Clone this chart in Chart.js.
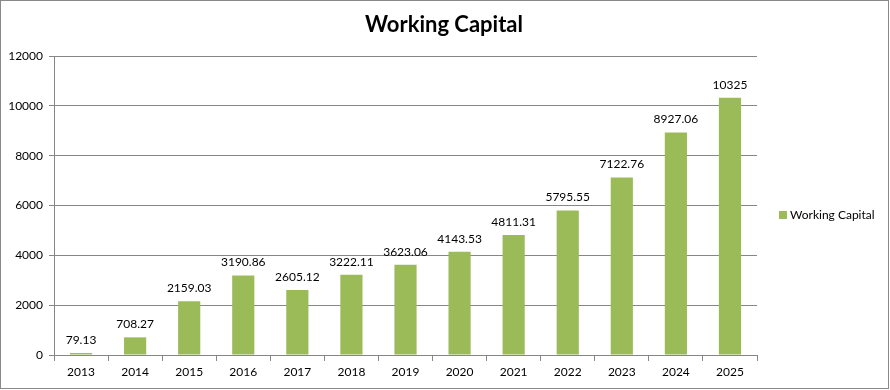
<!DOCTYPE html>
<html><head><meta charset="utf-8">
<script src="https://cdn.jsdelivr.net/npm/chart.js@4"></script>
<style>html,body{margin:0;padding:0;background:#fff}#wrap{width:890px;height:390px;position:relative}</style>
</head><body><div id="wrap"><canvas id="c" width="890" height="390"></canvas></div>
<script>
const categories = ['2013','2014','2015','2016','2017','2018','2019','2020','2021','2022','2023','2024','2025'];
const workingCapital = [79.13, 708.27, 2159.03, 3190.86, 2605.12, 3222.11, 3623.06, 4143.53, 4811.31, 5795.55, 7122.76, 8927.06, 10325];
const valueLabels = ['79.13','708.27','2159.03','3190.86','2605.12','3222.11','3623.06','4143.53','4811.31','5795.55','7122.76','8927.06','10325'];
const seriesName = 'Working Capital';
const titleText = 'Working Capital';
const FONT = 'Lato, "Open Sans", sans-serif';
const GREEN = '#9BBB59';
const GRID = '#868686';

const extras = {
  id: 'extras',
  afterDraw(chart) {
    const ctx = chart.ctx;
    ctx.save();
    ctx.strokeStyle = '#898989';
    ctx.lineWidth = 1;
    ctx.strokeRect(0.5, 0.5, 888, 388);
    ctx.fillStyle = '#000';
    ctx.font = 'bold 22px ' + FONT;
    ctx.textAlign = 'center';
    ctx.textBaseline = 'middle';
    ctx.fillText(titleText, 444, 25);
    ctx.font = '12px ' + FONT;
    const meta = chart.getDatasetMeta(0);
    meta.data.forEach((bar, i) => {
      ctx.fillText(valueLabels[i], bar.x, bar.y - 13);
    });
    ctx.fillStyle = GREEN;
    ctx.fillRect(779, 211, 8, 8);
    ctx.fillStyle = '#000';
    ctx.textAlign = 'left';
    ctx.fillText(seriesName, 790, 215);
    ctx.restore();
  }
};

new Chart(document.getElementById('c'), {
  type: 'bar',
  data: {
    labels: categories,
    datasets: [{ label: seriesName, data: workingCapital, backgroundColor: GREEN, borderWidth: 0,
      categoryPercentage: 1, barPercentage: 0.41 }]
  },
  options: {
    responsive: false,
    animation: false,
    events: [],
    layout: { padding: { top: 56, right: 133, left: 0, bottom: 0 } },
    plugins: { legend: { display: false }, title: { display: false }, tooltip: { enabled: false } },
    scales: {
      x: {
        afterFit(s) { s.height = 35; },
        grid: { drawOnChartArea: false, color: GRID, tickLength: 6, offset: true },
        border: { color: GRID },
        ticks: { color: '#000', font: { family: FONT, size: 12 }, padding: 4, maxRotation: 0 }
      },
      y: {
        min: 0, max: 12000,
        afterFit(s) { s.width = 54; },
        grid: { color: GRID, tickLength: 5 },
        border: { color: GRID },
        ticks: { stepSize: 2000, color: '#000', font: { family: FONT, size: 12 }, padding: 6,
          callback: v => String(v) }
      }
    }
  },
  plugins: [extras]
});
</script></body></html>
